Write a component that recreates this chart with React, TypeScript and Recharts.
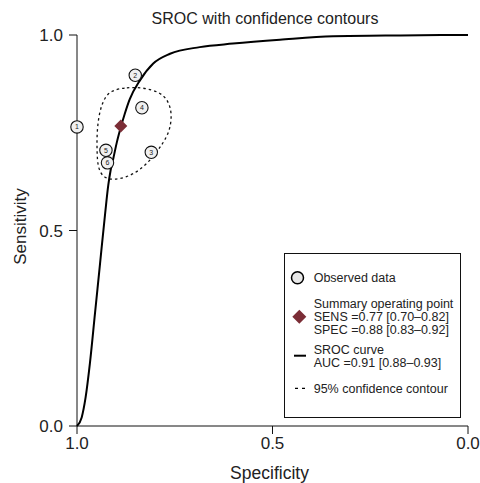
import React from 'react';
import { ScatterChart, Scatter, XAxis, YAxis, Legend } from 'recharts';

const FONT = '"Liberation Sans", Arial, Helvetica, sans-serif';

const title = 'SROC with confidence contours';
const xTitle = 'Specificity';
const yTitle = 'Sensitivity';
const axisTicks = [0, 0.5, 1];

// Observed studies
const studyLabels = ['1', '2', '3', '4', '5', '6'];
const studySpec = [1.0, 0.851, 0.81, 0.834, 0.926, 0.922];
const studySens = [0.765, 0.897, 0.7, 0.814, 0.705, 0.673];

// Summary operating point
const summarySpec = [0.888];
const summarySens = [0.767];

// SROC curve
const srocSpec = [1.0, 0.988, 0.978, 0.967, 0.954, 0.941, 0.928, 0.92, 0.914, 0.907, 0.898, 0.888, 0.878, 0.865, 0.839, 0.805, 0.762, 0.686, 0.601, 0.481, 0.345, 0.173, 0.0];
const srocSens = [0.0, 0.022, 0.073, 0.16, 0.288, 0.416, 0.544, 0.616, 0.654, 0.685, 0.726, 0.764, 0.798, 0.836, 0.884, 0.927, 0.952, 0.969, 0.978, 0.988, 0.997, 0.999, 1.0];

// 95% confidence contour
const contourSpec = [0.911, 0.873, 0.832, 0.788, 0.767, 0.757, 0.762, 0.78, 0.806, 0.839, 0.873, 0.909, 0.934, 0.947, 0.949, 0.949, 0.942, 0.929];
const contourSens = [0.859, 0.866, 0.866, 0.854, 0.833, 0.8, 0.756, 0.723, 0.687, 0.654, 0.636, 0.629, 0.636, 0.662, 0.705, 0.756, 0.807, 0.841];

// Legend texts
const legendObserved = 'Observed data';
const legendSummary = ['Summary operating point', 'SENS =0.77 [0.70\u20130.82]', 'SPEC =0.88 [0.83\u20130.92]'];
const legendSroc = ['SROC curve', 'AUC =0.91 [0.88\u20130.93]'];
const legendContour = '95% confidence contour';

const studies = studyLabels.map((label, i) => ({ label, spec: studySpec[i], sens: studySens[i] }));
const summary = summarySpec.map((s, i) => ({ spec: s, sens: summarySens[i] }));
const sroc = srocSpec.map((s, i) => ({ spec: s, sens: srocSens[i] }));
const contour = contourSpec.map((s, i) => ({ spec: s, sens: contourSens[i] }));

const MAROON = '#7b2d36';

const StudyShape = (props: any) => {
  const { cx, cy, payload } = props;
  return (
    <g>
      <circle cx={cx} cy={cy} r={6.2} fill="#f0f0f0" stroke="#111" strokeWidth={1.1} />
      <text x={cx} y={cy + 2.5} textAnchor="middle" fontSize={7} fontFamily={FONT} fill="#222">
        {payload.label}
      </text>
    </g>
  );
};

const DiamondShape = (props: any) => {
  const { cx, cy } = props;
  const h = 6.5;
  return <polygon points={`${cx},${cy - h} ${cx + h},${cy} ${cx},${cy + h} ${cx - h},${cy}`} fill={MAROON} />;
};

const NoShape = () => <g />;

const LegendBox = () => {
  const tx = 28.7;
  const fs = 12.5;
  const t = (y: number, s: string) => (
    <text x={tx} y={y} fontSize={fs} fontFamily={FONT} fill="#222">
      {s}
    </text>
  );
  return (
    <div style={{ width: 177, height: 165, border: '1px solid #111', background: '#fff', boxSizing: 'border-box' }}>
      <svg width={175} height={163} style={{ display: 'block' }}>
        <circle cx={12.5} cy={23.7} r={6} fill="#e8e8e8" stroke="#000" strokeWidth={1.5} />
        {t(28.3, legendObserved)}
        <polygon points="14.3,55.7 21.3,62.7 14.3,69.7 7.3,62.7" fill={MAROON} />
        {legendSummary.map((s, i) => (
          <React.Fragment key={s}>{t(53.8 + i * 13.2, s)}</React.Fragment>
        ))}
        <line x1={9} x2={21} y1={101.7} y2={101.7} stroke="#000" strokeWidth={2} />
        {legendSroc.map((s, i) => (
          <React.Fragment key={s}>{t(99.8 + i * 12.9, s)}</React.Fragment>
        ))}
        <line x1={10} x2={21} y1={134.3} y2={134.3} stroke="#000" strokeWidth={1.3} strokeDasharray="3 4" />
        {t(138.8, legendContour)}
      </svg>
    </div>
  );
};

const fmt = (v: number) => v.toFixed(1);

export default function App() {
  return (
    <div style={{ position: 'absolute', left: 0, top: 0, width: 480, height: 483, background: '#fff' }}>
      <ScatterChart width={480} height={483} margin={{ top: 35, right: 12, bottom: 0, left: 0 }} style={{ fontFamily: FONT }}>
        <XAxis
          type="number"
          dataKey="spec"
          domain={[0, 1]}
          reversed
          ticks={axisTicks}
          tickFormatter={fmt}
          height={57}
          tickSize={8}
          tickMargin={3}
          axisLine={{ stroke: '#111' }}
          tickLine={{ stroke: '#111' }}
          tick={{ fill: '#222', fontSize: 17, fontFamily: FONT }}
          label={{
            content: (p: any) => {
              const vb = p.viewBox || {};
              return (
                <text x={vb.x + vb.width / 2 - 3} y={479} textAnchor="middle" fontSize={17.5} fontFamily={FONT} fill="#222">
                  {xTitle}
                </text>
              );
            },
          }}
        />
        <YAxis
          type="number"
          dataKey="sens"
          domain={[0, 1]}
          ticks={axisTicks}
          tickFormatter={fmt}
          width={77}
          tickSize={8}
          tickMargin={6}
          axisLine={{ stroke: '#111' }}
          tickLine={{ stroke: '#111' }}
          tick={{ fill: '#222', fontSize: 17, fontFamily: FONT }}
          label={{
            content: (p: any) => {
              const vb = p.viewBox || {};
              const cy = vb.y + vb.height / 2 - 4;
              return (
                <text x={26} y={cy} transform={`rotate(-90 26 ${cy})`} textAnchor="middle" fontSize={17} fontFamily={FONT} fill="#222">
                  {yTitle}
                </text>
              );
            },
          }}
        />
        <Scatter
          data={contour}
          isAnimationActive={false}
          shape={NoShape}
          line={{ stroke: '#111', strokeWidth: 1.3, strokeDasharray: '2.5 3' }}
          lineJointType="basisClosed"
        />
        <Scatter
          data={sroc}
          isAnimationActive={false}
          shape={NoShape}
          line={{ stroke: '#000', strokeWidth: 2 }}
          lineJointType="monotoneX"
        />
        <Scatter data={studies} isAnimationActive={false} shape={StudyShape} />
        <Scatter data={summary} isAnimationActive={false} shape={DiamondShape} />
        <text x={265} y={24} textAnchor="middle" fontSize={16} fontFamily={FONT} fill="#222">
          {title}
        </text>
        <Legend
          layout="vertical"
          align="center"
          verticalAlign="middle"
          content={LegendBox}
          wrapperStyle={{ left: 284, top: 253, width: 177, height: 165 }}
        />
      </ScatterChart>
    </div>
  );
}
